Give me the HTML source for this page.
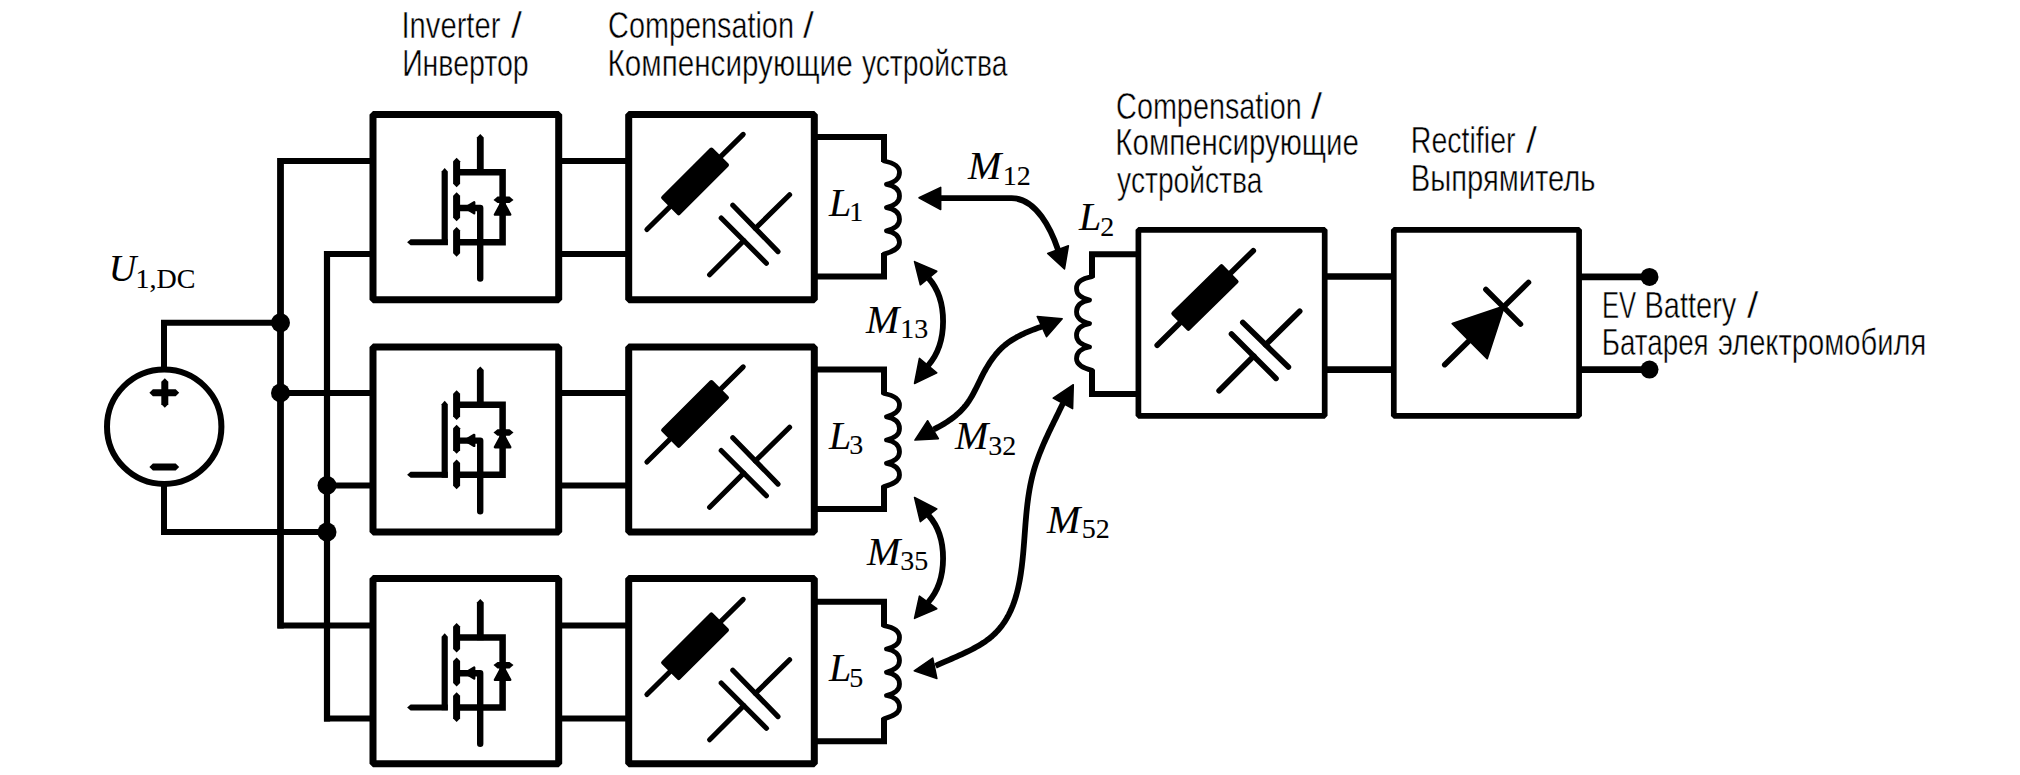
<!DOCTYPE html>
<html><head><meta charset="utf-8"><style>
html,body{margin:0;padding:0;background:#fff;}
svg{display:block;}
</style></head><body>
<svg width="2020" height="775" viewBox="0 0 2020 775">
<rect width="2020" height="775" fill="#fff"/>
<circle cx="164.2" cy="426.7" r="57.2" fill="none" stroke="#000" stroke-width="6"/>
<path d="M164 369 V322.8 H280.5" fill="none" stroke="#000" stroke-width="6.0" stroke-linejoin="miter" stroke-linecap="butt"/>
<path d="M164 484 V532 H327" fill="none" stroke="#000" stroke-width="6.0" stroke-linejoin="miter" stroke-linecap="butt"/>
<polygon points="152.9,396.3 149.4,392.8 152.9,389.3 175.7,389.3 179.2,392.8 175.7,396.3"/>
<polygon points="161.3,381.8 164.8,378.3 168.3,381.8 168.3,404.2 164.8,407.7 161.3,404.2"/>
<polygon points="152.9,470.4 149.4,466.9 152.9,463.4 175.7,463.4 179.2,466.9 175.7,470.4"/>
<path d="M372.5 160.9 H280.5 V625.4 H372.5" fill="none" stroke="#000" stroke-width="6.0" stroke-linejoin="miter" stroke-linecap="butt"/>
<path d="M372.5 254.0 H327.0 V718.5 H372.5" fill="none" stroke="#000" stroke-width="6.0" stroke-linejoin="miter" stroke-linecap="butt"/>
<line x1="280.5" y1="392.9" x2="372.5" y2="392.9" stroke="#000" stroke-width="6.0" stroke-linecap="butt"/>
<line x1="280.5" y1="157.9" x2="280.5" y2="628.4" stroke="#000" stroke-width="6.6" stroke-linecap="butt"/>
<line x1="327.0" y1="251.0" x2="327.0" y2="721.5" stroke="#000" stroke-width="6.2" stroke-linecap="butt"/>
<line x1="327.0" y1="485.4" x2="372.5" y2="485.4" stroke="#000" stroke-width="6.0" stroke-linecap="butt"/>
<circle cx="280.5" cy="322.8" r="9.5"/>
<circle cx="280.5" cy="392.9" r="9.5"/>
<circle cx="327.0" cy="485.4" r="9.5"/>
<circle cx="327.0" cy="532.0" r="9.5"/>
<rect x="373.0" y="114.6" width="185.7" height="185.2" fill="none" stroke="#000" stroke-width="7.0" stroke-linejoin="bevel"/>
<rect x="628.7" y="114.6" width="185.6" height="185.2" fill="none" stroke="#000" stroke-width="7.0" stroke-linejoin="bevel"/>
<line x1="559.2" y1="160.9" x2="628.2" y2="160.9" stroke="#000" stroke-width="6.0" stroke-linecap="butt"/>
<line x1="559.2" y1="254.0" x2="628.2" y2="254.0" stroke="#000" stroke-width="6.0" stroke-linecap="butt"/>
<polygon points="476.9,137.4 480.3,133.9 483.7,137.4 483.7,175.1 476.9,175.1"/>
<path d="M459.5 172.2 H502.6 V242.2 H459.5" fill="none" stroke="#000" stroke-width="6.5" stroke-linejoin="miter" stroke-linecap="butt"/>
<path d="M458 208.0 H480.2 V278.6" fill="none" stroke="#000" stroke-width="6.4" stroke-linejoin="round" stroke-linecap="round"/>
<polygon points="465,207.8 474.2,202.3 474.2,213.3" stroke="#000" stroke-width="2.4" stroke-linejoin="round"/>
<polygon points="453.1,161.2 456.6,157.7 460.1,161.2 460.1,183.8 456.6,187.3 453.1,183.8"/>
<polygon points="453.1,195.7 456.6,192.2 460.1,195.7 460.1,217.7 456.6,221.2 453.1,217.7"/>
<polygon points="453.1,230.5 456.6,227.0 460.1,230.5 460.1,253.2 456.6,256.7 453.1,253.2"/>
<polygon points="441.6,171.6 444.7,168.1 447.8,171.6 447.8,245.1 441.6,245.1"/>
<polygon points="410.6,245.2 407.1,242.2 410.6,239.2 447.8,239.2 447.8,245.2"/>
<polygon points="502.6,200.6 495,214.6 510.2,214.6" stroke="#000" stroke-width="2.5" stroke-linejoin="round"/>
<polygon points="497.5,203.1 493.5,199.9 497.5,196.6 509.5,196.6 513.5,199.9 509.5,203.1"/>
<line x1="646.9" y1="229.5" x2="743.2" y2="134.4" stroke="#000" stroke-width="5.1" stroke-linecap="round"/>
<polygon points="678.7,213.3 727.0,165.0 711.4,149.5 663.1,197.7" stroke="#000" stroke-width="4" stroke-linejoin="round"/>
<line x1="721.2" y1="218.0" x2="766.4" y2="263.2" stroke="#000" stroke-width="5.1" stroke-linecap="round"/>
<line x1="732.8" y1="205.2" x2="778.0" y2="251.6" stroke="#000" stroke-width="5.1" stroke-linecap="round"/>
<line x1="709.6" y1="274.8" x2="743.8" y2="240.6" stroke="#000" stroke-width="5.1" stroke-linecap="round"/>
<line x1="755.4" y1="228.4" x2="789.6" y2="194.8" stroke="#000" stroke-width="5.1" stroke-linecap="round"/>
<path d="M814.8 137.0 H884 V162.0 M884 253.1 V276.5 H814.8" fill="none" stroke="#000" stroke-width="6.0" stroke-linejoin="miter" stroke-linecap="butt"/><path d="M884 159.0 L884 161.0 C892.0 162.4 899.5 165.7 899.5 172.6 C899.5 179.2 894.5 181.9 886.5 184.3 C894.5 185.7 899.5 188.9 899.5 195.9 C899.5 202.4 894.5 205.2 886.5 207.6 C894.5 208.9 899.5 212.2 899.5 219.2 C899.5 225.7 894.5 228.5 886.5 230.8 C894.5 232.2 899.5 235.5 899.5 242.5 C899.5 249.0 892.0 251.8 884.0 254.1 V256.1" fill="none" stroke="#000" stroke-width="4.8" stroke-linejoin="round" stroke-linecap="butt"/>
<rect x="373.0" y="346.9" width="185.7" height="185.2" fill="none" stroke="#000" stroke-width="7.0" stroke-linejoin="bevel"/>
<rect x="628.7" y="346.9" width="185.6" height="185.2" fill="none" stroke="#000" stroke-width="7.0" stroke-linejoin="bevel"/>
<line x1="559.2" y1="392.9" x2="628.2" y2="392.9" stroke="#000" stroke-width="6.0" stroke-linecap="butt"/>
<line x1="559.2" y1="485.4" x2="628.2" y2="485.4" stroke="#000" stroke-width="6.0" stroke-linecap="butt"/>
<polygon points="476.9,370.0 480.3,366.5 483.7,370.0 483.7,407.7 476.9,407.7"/>
<path d="M459.5 404.8 H502.6 V474.8 H459.5" fill="none" stroke="#000" stroke-width="6.5" stroke-linejoin="miter" stroke-linecap="butt"/>
<path d="M458 440.6 H480.2 V511.2" fill="none" stroke="#000" stroke-width="6.4" stroke-linejoin="round" stroke-linecap="round"/>
<polygon points="465,440.4 474.2,434.9 474.2,445.9" stroke="#000" stroke-width="2.4" stroke-linejoin="round"/>
<polygon points="453.1,393.8 456.6,390.3 460.1,393.8 460.1,416.4 456.6,419.9 453.1,416.4"/>
<polygon points="453.1,428.3 456.6,424.8 460.1,428.3 460.1,450.3 456.6,453.8 453.1,450.3"/>
<polygon points="453.1,463.1 456.6,459.6 460.1,463.1 460.1,485.8 456.6,489.3 453.1,485.8"/>
<polygon points="441.6,404.2 444.7,400.7 447.8,404.2 447.8,477.7 441.6,477.7"/>
<polygon points="410.6,477.8 407.1,474.8 410.6,471.8 447.8,471.8 447.8,477.8"/>
<polygon points="502.6,433.2 495,447.2 510.2,447.2" stroke="#000" stroke-width="2.5" stroke-linejoin="round"/>
<polygon points="497.5,435.8 493.5,432.5 497.5,429.2 509.5,429.2 513.5,432.5 509.5,435.8"/>
<line x1="646.9" y1="462.0" x2="743.2" y2="366.9" stroke="#000" stroke-width="5.1" stroke-linecap="round"/>
<polygon points="678.7,445.8 727.0,397.6 711.4,382.0 663.1,430.2" stroke="#000" stroke-width="4" stroke-linejoin="round"/>
<line x1="721.2" y1="450.5" x2="766.4" y2="495.7" stroke="#000" stroke-width="5.1" stroke-linecap="round"/>
<line x1="732.8" y1="437.7" x2="778.0" y2="484.1" stroke="#000" stroke-width="5.1" stroke-linecap="round"/>
<line x1="709.6" y1="507.3" x2="743.8" y2="473.1" stroke="#000" stroke-width="5.1" stroke-linecap="round"/>
<line x1="755.4" y1="460.9" x2="789.6" y2="427.3" stroke="#000" stroke-width="5.1" stroke-linecap="round"/>
<path d="M814.8 369.5 H884 V394.5 M884 485.6 V509.0 H814.8" fill="none" stroke="#000" stroke-width="6.0" stroke-linejoin="miter" stroke-linecap="butt"/><path d="M884 391.5 L884 393.5 C892.0 394.9 899.5 398.1 899.5 405.1 C899.5 411.6 894.5 414.4 886.5 416.8 C894.5 418.2 899.5 421.4 899.5 428.4 C899.5 434.9 894.5 437.7 886.5 440.0 C894.5 441.4 899.5 444.7 899.5 451.7 C899.5 458.2 894.5 461.0 886.5 463.3 C894.5 464.7 899.5 468.0 899.5 474.9 C899.5 481.5 892.0 484.3 884.0 486.6 V488.6" fill="none" stroke="#000" stroke-width="4.8" stroke-linejoin="round" stroke-linecap="butt"/>
<rect x="373.0" y="578.6" width="185.7" height="185.2" fill="none" stroke="#000" stroke-width="7.0" stroke-linejoin="bevel"/>
<rect x="628.7" y="578.6" width="185.6" height="185.2" fill="none" stroke="#000" stroke-width="7.0" stroke-linejoin="bevel"/>
<line x1="559.2" y1="625.4" x2="628.2" y2="625.4" stroke="#000" stroke-width="6.0" stroke-linecap="butt"/>
<line x1="559.2" y1="718.5" x2="628.2" y2="718.5" stroke="#000" stroke-width="6.0" stroke-linecap="butt"/>
<polygon points="476.9,602.6 480.3,599.1 483.7,602.6 483.7,640.3 476.9,640.3"/>
<path d="M459.5 637.4 H502.6 V707.4 H459.5" fill="none" stroke="#000" stroke-width="6.5" stroke-linejoin="miter" stroke-linecap="butt"/>
<path d="M458 673.2 H480.2 V743.8" fill="none" stroke="#000" stroke-width="6.4" stroke-linejoin="round" stroke-linecap="round"/>
<polygon points="465,673.0 474.2,667.5 474.2,678.5" stroke="#000" stroke-width="2.4" stroke-linejoin="round"/>
<polygon points="453.1,626.4 456.6,622.9 460.1,626.4 460.1,649.0 456.6,652.5 453.1,649.0"/>
<polygon points="453.1,660.9 456.6,657.4 460.1,660.9 460.1,682.9 456.6,686.4 453.1,682.9"/>
<polygon points="453.1,695.7 456.6,692.2 460.1,695.7 460.1,718.4 456.6,721.9 453.1,718.4"/>
<polygon points="441.6,636.8 444.7,633.3 447.8,636.8 447.8,710.3 441.6,710.3"/>
<polygon points="410.6,710.4 407.1,707.4 410.6,704.4 447.8,704.4 447.8,710.4"/>
<polygon points="502.6,665.8 495,679.8 510.2,679.8" stroke="#000" stroke-width="2.5" stroke-linejoin="round"/>
<polygon points="497.5,668.4 493.5,665.1 497.5,661.9 509.5,661.9 513.5,665.1 509.5,668.4"/>
<line x1="646.9" y1="694.5" x2="743.2" y2="599.4" stroke="#000" stroke-width="5.1" stroke-linecap="round"/>
<polygon points="678.7,678.2 727.0,630.0 711.4,614.4 663.1,662.7" stroke="#000" stroke-width="4" stroke-linejoin="round"/>
<line x1="721.2" y1="683.0" x2="766.4" y2="728.2" stroke="#000" stroke-width="5.1" stroke-linecap="round"/>
<line x1="732.8" y1="670.2" x2="778.0" y2="716.6" stroke="#000" stroke-width="5.1" stroke-linecap="round"/>
<line x1="709.6" y1="739.8" x2="743.8" y2="705.6" stroke="#000" stroke-width="5.1" stroke-linecap="round"/>
<line x1="755.4" y1="693.4" x2="789.6" y2="659.8" stroke="#000" stroke-width="5.1" stroke-linecap="round"/>
<path d="M814.8 601.7 H884 V626.7 M884 717.8 V741.2 H814.8" fill="none" stroke="#000" stroke-width="6.0" stroke-linejoin="miter" stroke-linecap="butt"/><path d="M884 623.7 L884 625.7 C892.0 627.1 899.5 630.4 899.5 637.4 C899.5 643.9 894.5 646.7 886.5 649.0 C894.5 650.4 899.5 653.6 899.5 660.6 C899.5 667.1 894.5 669.9 886.5 672.3 C894.5 673.7 899.5 676.9 899.5 683.9 C899.5 690.4 894.5 693.2 886.5 695.5 C894.5 696.9 899.5 700.2 899.5 707.2 C899.5 713.7 892.0 716.5 884.0 718.8 V720.8" fill="none" stroke="#000" stroke-width="4.8" stroke-linejoin="round" stroke-linecap="butt"/>
<rect x="1138.4" y="229.8" width="186.3" height="186.0" fill="none" stroke="#000" stroke-width="5.7" stroke-linejoin="bevel"/>
<line x1="1157.2" y1="345.3" x2="1253.3" y2="250.7" stroke="#000" stroke-width="5.6" stroke-linecap="round"/>
<polygon points="1188.4,328.9 1236.6,281.6 1221.5,266.2 1173.3,313.5" stroke="#000" stroke-width="4" stroke-linejoin="round"/>
<line x1="1231.5" y1="333.9" x2="1276.0" y2="378.4" stroke="#000" stroke-width="5.6" stroke-linecap="round"/>
<line x1="1242.8" y1="322.5" x2="1288.4" y2="367.0" stroke="#000" stroke-width="5.6" stroke-linecap="round"/>
<line x1="1219.1" y1="390.8" x2="1253.8" y2="356.1" stroke="#000" stroke-width="5.6" stroke-linecap="round"/>
<line x1="1265.6" y1="344.8" x2="1299.7" y2="311.2" stroke="#000" stroke-width="5.6" stroke-linecap="round"/>
<rect x="1393.8" y="229.8" width="185.3" height="186.1" fill="none" stroke="#000" stroke-width="5.7" stroke-linejoin="bevel"/>
<line x1="1324.0" y1="276.5" x2="1395.0" y2="276.5" stroke="#000" stroke-width="6.6" stroke-linecap="butt"/>
<line x1="1324.0" y1="369.6" x2="1395.0" y2="369.6" stroke="#000" stroke-width="6.6" stroke-linecap="butt"/>
<line x1="1578.0" y1="276.9" x2="1649.5" y2="276.9" stroke="#000" stroke-width="6.8" stroke-linecap="butt"/>
<line x1="1578.0" y1="369.6" x2="1649.5" y2="369.6" stroke="#000" stroke-width="6.8" stroke-linecap="butt"/>
<circle cx="1649.5" cy="276.9" r="9"/>
<circle cx="1649.5" cy="369.6" r="9"/>
<path d="M1138 254.2 H1092 V277.7 M1092 369.4 V394.0 H1138" fill="none" stroke="#000" stroke-width="6.0" stroke-linejoin="miter" stroke-linecap="butt"/>
<path d="M1092 275 L1092 276.7 C1084.0 278.1 1076.5 281.4 1076.5 288.4 C1076.5 295.0 1081.5 297.8 1089.5 300.1 C1081.5 301.5 1076.5 304.8 1076.5 311.8 C1076.5 318.4 1081.5 321.2 1089.5 323.6 C1081.5 325.0 1076.5 328.2 1076.5 335.3 C1076.5 341.8 1081.5 344.6 1089.5 347.0 C1081.5 348.4 1076.5 351.7 1076.5 358.7 C1076.5 365.2 1084.0 368.1 1092.0 370.4 V372" fill="none" stroke="#000" stroke-width="4.8" stroke-linejoin="round" stroke-linecap="butt"/>
<line x1="1444.7" y1="364.7" x2="1528.5" y2="282.4" stroke="#000" stroke-width="5.5" stroke-linecap="round"/>
<polygon points="1452.3,323.6 1487.2,358.5 1504.2,306.2" stroke="#000" stroke-width="1.8" stroke-linejoin="round"/>
<line x1="1485.9" y1="289.5" x2="1520.5" y2="324.1" stroke="#000" stroke-width="5.5" stroke-linecap="round"/>
<polygon points="919.0,197.8 940.7,187.4 940.7,209.6" stroke="#000" stroke-width="1.5" stroke-linejoin="round"/>
<path d="M938 198.1 H1011.6 C1036.6 198.1 1051.6 230.7 1058 249.7" fill="none" stroke="#000" stroke-width="5.8" stroke-linejoin="miter" stroke-linecap="butt"/>
<polygon points="1064.5,269.0 1047.7,253.5 1068.4,245.8" stroke="#000" stroke-width="1.5" stroke-linejoin="round"/>
<polygon points="914.5,261.6 936.8,271.3 920.3,284.8" stroke="#000" stroke-width="1.5" stroke-linejoin="round"/>
<path d="M928.5 278 C948 300 948 343 928.1 365.6" fill="none" stroke="#000" stroke-width="5.8" stroke-linejoin="miter" stroke-linecap="butt"/>
<polygon points="914.5,383.5 936.8,372.9 919.4,358.4" stroke="#000" stroke-width="1.5" stroke-linejoin="round"/>
<polygon points="1062.2,318.7 1037.2,316.4 1046.5,336.7" stroke="#000" stroke-width="1.5" stroke-linejoin="round"/>
<path d="M1041.90 326.60 L1040.08 327.22 L1038.25 327.85 L1036.41 328.51 L1034.56 329.19 L1032.71 329.89 L1030.85 330.62 L1029.00 331.37 L1027.15 332.14 L1025.30 332.95 L1023.47 333.78 L1021.66 334.64 L1019.86 335.53 L1018.07 336.46 L1016.32 337.41 L1014.59 338.40 L1012.88 339.43 L1011.21 340.49 L1009.58 341.59 L1007.98 342.73 L1006.43 343.90 L1004.92 345.12 L1003.45 346.38 L1002.03 347.68 L1000.65 349.01 L999.30 350.38 L998.00 351.79 L996.74 353.23 L995.51 354.69 L994.32 356.19 L993.15 357.72 L992.02 359.27 L990.92 360.85 L989.85 362.45 L988.81 364.07 L987.79 365.72 L986.80 367.38 L985.83 369.06 L984.88 370.76 L983.94 372.47 L983.03 374.19 L982.14 375.92 L981.26 377.67 L980.39 379.42 L979.53 381.17 L978.67 382.93 L977.82 384.69 L976.96 386.44 L976.09 388.19 L975.22 389.92 L974.33 391.65 L973.42 393.36 L972.49 395.06 L971.54 396.73 L970.55 398.38 L969.53 400.01 L968.48 401.60 L967.38 403.17 L966.24 404.70 L965.05 406.20 L963.82 407.66 L962.53 409.09 L961.21 410.48 L959.84 411.83 L958.42 413.16 L956.97 414.45 L955.49 415.71 L953.96 416.93 L952.41 418.13 L950.81 419.30 L949.19 420.44 L947.54 421.55 L945.87 422.63 L944.16 423.69 L942.44 424.72 L940.69 425.72 L938.92 426.70 L937.13 427.66 L935.32 428.59 L933.50 429.50" fill="none" stroke="#000" stroke-width="5.8" stroke-linejoin="round" stroke-linecap="butt"/>
<polygon points="914.9,440.1 927.6,420.7 938.4,438.7" stroke="#000" stroke-width="1.5" stroke-linejoin="round"/>
<polygon points="914.5,497.4 936.8,509.0 920.3,521.6" stroke="#000" stroke-width="1.5" stroke-linejoin="round"/>
<path d="M928.5 515.3 C948 537 948 580 928.1 602.4" fill="none" stroke="#000" stroke-width="5.8" stroke-linejoin="miter" stroke-linecap="butt"/>
<polygon points="914.5,618.4 936.8,608.7 919.4,596.1" stroke="#000" stroke-width="1.5" stroke-linejoin="round"/>
<polygon points="1073.3,384.7 1053.2,398.2 1072.6,408.6" stroke="#000" stroke-width="1.5" stroke-linejoin="round"/>
<path d="M1062.90 403.40 L1061.80 405.70 L1060.69 408.02 L1059.57 410.34 L1058.43 412.67 L1057.29 415.01 L1056.14 417.35 L1054.99 419.71 L1053.83 422.07 L1052.68 424.44 L1051.53 426.82 L1050.38 429.21 L1049.24 431.60 L1048.11 434.00 L1046.99 436.41 L1045.88 438.83 L1044.79 441.26 L1043.72 443.69 L1042.67 446.13 L1041.64 448.58 L1040.63 451.04 L1039.65 453.50 L1038.70 455.97 L1037.78 458.45 L1036.89 460.93 L1036.04 463.42 L1035.22 465.92 L1034.45 468.43 L1033.71 470.94 L1033.02 473.46 L1032.37 475.99 L1031.76 478.52 L1031.18 481.06 L1030.64 483.61 L1030.14 486.16 L1029.66 488.72 L1029.22 491.28 L1028.80 493.85 L1028.41 496.42 L1028.05 499.00 L1027.71 501.58 L1027.39 504.16 L1027.09 506.76 L1026.81 509.35 L1026.54 511.95 L1026.29 514.55 L1026.06 517.16 L1025.83 519.77 L1025.61 522.38 L1025.40 525.00 L1025.20 527.61 L1025.00 530.23 L1024.80 532.86 L1024.61 535.48 L1024.41 538.11 L1024.21 540.74 L1024.01 543.37 L1023.80 546.00 L1023.58 548.63 L1023.36 551.27 L1023.12 553.90 L1022.87 556.54 L1022.60 559.17 L1022.32 561.81 L1022.02 564.44 L1021.70 567.08 L1021.35 569.71 L1020.99 572.33 L1020.59 574.94 L1020.17 577.55 L1019.71 580.14 L1019.22 582.72 L1018.70 585.29 L1018.14 587.84 L1017.54 590.37 L1016.90 592.88 L1016.22 595.37 L1015.49 597.84 L1014.71 600.28 L1013.88 602.69 L1013.00 605.08 L1012.07 607.43 L1011.07 609.75 L1010.03 612.04 L1008.92 614.29 L1007.74 616.50 L1006.51 618.68 L1005.20 620.81 L1003.83 622.90 L1002.39 624.94 L1000.87 626.94 L999.28 628.89 L997.61 630.78 L995.86 632.63 L994.03 634.42 L992.12 636.16 L990.12 637.84 L988.03 639.46 L985.88 641.03 L983.65 642.55 L981.37 644.02 L979.03 645.44 L976.64 646.82 L974.22 648.16 L971.75 649.46 L969.27 650.73 L966.76 651.96 L964.24 653.15 L961.71 654.32 L959.19 655.47 L956.67 656.59 L954.17 657.68 L951.69 658.76 L949.23 659.83 L946.82 660.88 L944.44 661.91 L942.12 662.94 L939.84 663.96 L937.64 664.98 L935.50 666.00" fill="none" stroke="#000" stroke-width="5.8" stroke-linejoin="round" stroke-linecap="butt"/>
<polygon points="914.2,670.8 932.7,658.0 936.9,678.6" stroke="#000" stroke-width="1.5" stroke-linejoin="round"/>
<text x="108.8" y="281.0" font-family="Liberation Serif" font-style="italic" font-size="38" stroke="#000" stroke-width="0.1">U<tspan font-style="normal" font-size="28" dx="-0.8" dy="6.5">1,DC</tspan></text>
<text x="829" y="216.2" font-family="Liberation Serif" font-style="italic" font-size="40" stroke="#000" stroke-width="0.1">L<tspan font-style="normal" font-size="28" dx="-2" dy="4.5">1</tspan></text>
<text x="829" y="448.8" font-family="Liberation Serif" font-style="italic" font-size="40" stroke="#000" stroke-width="0.1">L<tspan font-style="normal" font-size="28" dx="-2" dy="5.5">3</tspan></text>
<text x="829" y="681" font-family="Liberation Serif" font-style="italic" font-size="40" stroke="#000" stroke-width="0.1">L<tspan font-style="normal" font-size="28" dx="-2" dy="5.5">5</tspan></text>
<text x="1079" y="230.0" font-family="Liberation Serif" font-style="italic" font-size="40" stroke="#000" stroke-width="0.1">L<tspan font-style="normal" font-size="28" dx="-1" dy="5.5">2</tspan></text>
<text x="968" y="178.9" font-family="Liberation Serif" font-style="italic" font-size="40" stroke="#000" stroke-width="0.1">M<tspan font-style="normal" font-size="28" dx="1.3" dy="6.5">12</tspan></text>
<text x="866" y="333.1" font-family="Liberation Serif" font-style="italic" font-size="40" stroke="#000" stroke-width="0.1">M<tspan font-style="normal" font-size="28" dx="1" dy="4.9">13</tspan></text>
<text x="955" y="449.1" font-family="Liberation Serif" font-style="italic" font-size="40" stroke="#000" stroke-width="0.1">M<tspan font-style="normal" font-size="28" dx="0" dy="5.5">32</tspan></text>
<text x="867" y="564.7" font-family="Liberation Serif" font-style="italic" font-size="40" stroke="#000" stroke-width="0.1">M<tspan font-style="normal" font-size="28" dx="0" dy="5.5">35</tspan></text>
<text x="1047" y="532.7" font-family="Liberation Serif" font-style="italic" font-size="40" stroke="#000" stroke-width="0.1">M<tspan font-style="normal" font-size="28" dx="1.5" dy="5.5">52</tspan></text>
<text x="401.46" y="37.9" font-family="Liberation Sans" font-size="36" textLength="98.98" lengthAdjust="spacingAndGlyphs" stroke="#fff" stroke-width="0.45">Inverter</text>
<text x="511.03" y="37.9" font-family="Liberation Sans" font-size="36" textLength="10.96" lengthAdjust="spacingAndGlyphs" stroke="#fff" stroke-width="0.45">/</text>
<text x="402.13" y="75.8" font-family="Liberation Sans" font-size="36" textLength="126.54" lengthAdjust="spacingAndGlyphs" stroke="#fff" stroke-width="0.45">Инвертор</text>
<text x="608.10" y="37.9" font-family="Liberation Sans" font-size="36" textLength="185.81" lengthAdjust="spacingAndGlyphs" stroke="#fff" stroke-width="0.45">Compensation</text>
<text x="802.93" y="37.9" font-family="Liberation Sans" font-size="36" textLength="10.86" lengthAdjust="spacingAndGlyphs" stroke="#fff" stroke-width="0.45">/</text>
<text x="607.52" y="75.8" font-family="Liberation Sans" font-size="36" textLength="245.12" lengthAdjust="spacingAndGlyphs" stroke="#fff" stroke-width="0.45">Компенсирующие</text>
<text x="861.91" y="75.8" font-family="Liberation Sans" font-size="36" textLength="145.56" lengthAdjust="spacingAndGlyphs" stroke="#fff" stroke-width="0.45">устройства</text>
<text x="1116.10" y="118.5" font-family="Liberation Sans" font-size="36" textLength="185.61" lengthAdjust="spacingAndGlyphs" stroke="#fff" stroke-width="0.45">Compensation</text>
<text x="1310.72" y="118.5" font-family="Liberation Sans" font-size="36" textLength="11.39" lengthAdjust="spacingAndGlyphs" stroke="#fff" stroke-width="0.45">/</text>
<text x="1115.34" y="155.2" font-family="Liberation Sans" font-size="36" textLength="243.59" lengthAdjust="spacingAndGlyphs" stroke="#fff" stroke-width="0.45">Компенсирующие</text>
<text x="1117.11" y="192.6" font-family="Liberation Sans" font-size="36" textLength="145.26" lengthAdjust="spacingAndGlyphs" stroke="#fff" stroke-width="0.45">устройства</text>
<text x="1410.82" y="153.2" font-family="Liberation Sans" font-size="36" textLength="104.70" lengthAdjust="spacingAndGlyphs" stroke="#fff" stroke-width="0.45">Rectifier</text>
<text x="1526.03" y="153.2" font-family="Liberation Sans" font-size="36" textLength="10.96" lengthAdjust="spacingAndGlyphs" stroke="#fff" stroke-width="0.45">/</text>
<text x="1410.77" y="191.2" font-family="Liberation Sans" font-size="36" textLength="184.78" lengthAdjust="spacingAndGlyphs" stroke="#fff" stroke-width="0.45">Выпрямитель</text>
<text x="1601.99" y="317.9" font-family="Liberation Sans" font-size="36" textLength="34.19" lengthAdjust="spacingAndGlyphs" stroke="#fff" stroke-width="0.45">EV</text>
<text x="1644.48" y="317.9" font-family="Liberation Sans" font-size="36" textLength="91.86" lengthAdjust="spacingAndGlyphs" stroke="#fff" stroke-width="0.45">Battery</text>
<text x="1747.02" y="317.9" font-family="Liberation Sans" font-size="36" textLength="11.39" lengthAdjust="spacingAndGlyphs" stroke="#fff" stroke-width="0.45">/</text>
<text x="1601.79" y="354.5" font-family="Liberation Sans" font-size="36" textLength="106.83" lengthAdjust="spacingAndGlyphs" stroke="#fff" stroke-width="0.45">Батарея</text>
<text x="1717.89" y="354.5" font-family="Liberation Sans" font-size="36" textLength="208.38" lengthAdjust="spacingAndGlyphs" stroke="#fff" stroke-width="0.45">электромобиля</text>
</svg>
</body></html>
